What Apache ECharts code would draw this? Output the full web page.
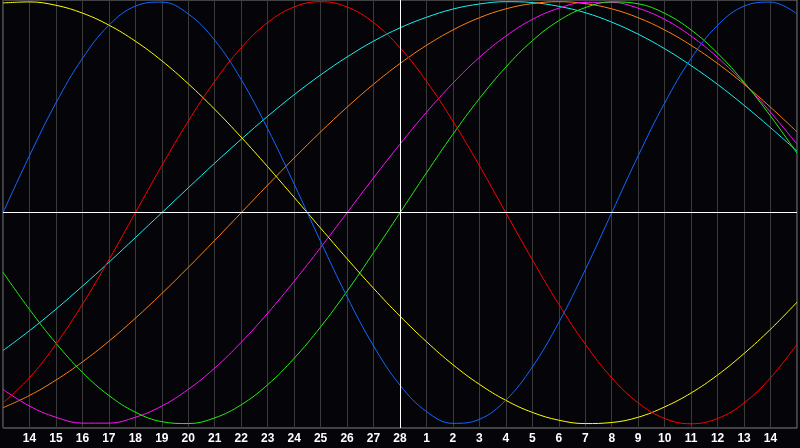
<!DOCTYPE html>
<html>
<head>
<meta charset="utf-8">
<script src="https://cdn.jsdelivr.net/npm/echarts@6/dist/echarts.min.js"></script>
<style>
html,body{margin:0;padding:0;background:#050408;}
#chart{width:800px;height:448px;}
</style>
</head>
<body>
<div id="chart"></div>
<script>
// x positions: day index 0..30 (day 13 of previous month .. day 15 of next month)
const dayIndex = [0,1,2,3,4,5,6,7,8,9,10,11,12,13,14,15,16,17,18,19,20,21,22,23,24,25,26,27,28,29,30];
// tick labels shown at indices 1..29
const tickLabels = ["14","15","16","17","18","19","20","21","22","23","24","25","26","27","28","1","2","3","4","5","6","7","8","9","10","11","12","13","14"];
const todayIndex = 15;

// values in percent at each day index
const physical = [0,27.0,52.0,73.1,88.8,97.9,99.8,94.2,81.7,63.1,39.8,13.6,-13.6,-39.8,-63.1,-81.7,-94.2,-99.8,-97.9,-88.8,-73.1,-52.0,-27.0,0,27.0,52.0,73.1,88.8,97.9,99.8,94.2];
const emotional = [-90.1,-78.2,-62.3,-43.4,-22.3,0,22.3,43.4,62.3,78.2,90.1,97.5,100,97.5,90.1,78.2,62.3,43.4,22.3,0,-22.3,-43.4,-62.3,-78.2,-90.1,-97.5,-100,-97.5,-90.1,-78.2,-62.3];
const intellectual = [-28.2,-45.8,-61.8,-75.6,-86.6,-94.5,-99.0,-99.9,-97.2,-91.0,-81.5,-69.0,-54.1,-37.2,-18.9,0,18.9,37.2,54.1,69.0,81.5,91.0,97.2,99.9,99.0,94.5,86.6,75.6,61.8,45.8,28.2];
const intuitive = [-83.7,-91.6,-96.9,-99.7,-99.7,-96.9,-91.6,-83.7,-73.6,-61.4,-47.6,-32.5,-16.5,0,16.5,32.5,47.6,61.4,73.6,83.7,91.6,96.9,99.7,99.7,96.9,91.6,83.7,73.6,61.4,47.6,32.5];
const aesthetic = [99.4,99.9,98.3,94.6,88.9,81.3,72.0,61.1,49.0,35.8,21.8,7.3,-7.3,-21.8,-35.8,-49.0,-61.1,-72.0,-81.3,-88.9,-94.6,-98.3,-99.9,-99.4,-96.9,-92.0,-85.4,-76.9,-66.7,-55.2,-42.4];
const awareness = [-92.4,-86.6,-79.3,-70.7,-60.9,-50.0,-38.3,-25.9,-13.1,0,13.1,25.9,38.3,50.0,60.9,70.7,79.3,86.6,92.4,96.6,99.1,100,99.1,96.6,92.4,86.6,79.3,70.7,60.9,50.0,38.3];
const spiritual = [-65.3,-55.9,-45.7,-34.8,-23.5,-11.8,0,11.8,23.5,34.8,45.7,55.9,65.3,73.8,81.3,87.6,92.6,96.5,98.9,100.0,99.6,97.8,94.8,90.3,84.6,77.7,69.7,60.8,50.9,40.3,29.2];

const seriesDefs = [
  {name:'Spiritual', data:spiritual, color:'#18f0f0'},
  {name:'Awareness', data:awareness, color:'#ff8010'},
  {name:'Intuitive', data:intuitive, color:'#ff10ff'},
  {name:'Intellectual', data:intellectual, color:'#20f010'},
  {name:'Aesthetic', data:aesthetic, color:'#ffff00'},
  {name:'Emotional', data:emotional, color:'#ff0000'},
  {name:'Physical', data:physical, color:'#1068ff'}
];

const chart = echarts.init(document.getElementById('chart'), null, {renderer:'canvas'});
const series = seriesDefs.map(s => ({
  name: s.name,
  type: 'line',
  data: dayIndex.map((d,i)=>[d, s.data[i]]),
  smooth: 0.4,
  showSymbol: false,
  symbol: 'none',
  lineStyle: {color: s.color, width: 1},
  itemStyle: {color: s.color},
  silent: true,
  z: 3
}));
series.push({
  name: 'ref',
  type: 'line',
  data: [],
  silent: true,
  z: 2,
  markLine: {
    silent: true,
    symbol: 'none',
    label: {show:false},
    lineStyle: {color:'#ffffff', width:1, type:'solid'},
    data: [{yAxis: 0}, {xAxis: todayIndex}]
  }
});

chart.setOption({
  animation: false,
  backgroundColor: '#050408',
  grid: {left: 0, right: 1, top: 0, height: 428, show: true, borderColor: '#808080', borderWidth: 1, backgroundColor: '#050408'},
  xAxis: {
    type: 'value', min: 0, max: 30, interval: 1,
    axisLine: {show:false}, axisTick: {show:false},
    splitLine: {show:true, lineStyle:{color:'#3a3a3a', width:1}},
    axisLabel: {
      color:'#ffffff', fontWeight:'bold', fontSize:12, fontFamily:'Liberation Sans', margin:5,
      formatter: v => (v>=1 && v<=tickLabels.length) ? tickLabels[v-1] : ''
    }
  },
  yAxis: {
    type: 'value', min: -102.0, max: 100.8,
    axisLine:{show:false}, axisTick:{show:false}, axisLabel:{show:false}, splitLine:{show:false}
  },
  series: series
});
</script>
</body>
</html>
